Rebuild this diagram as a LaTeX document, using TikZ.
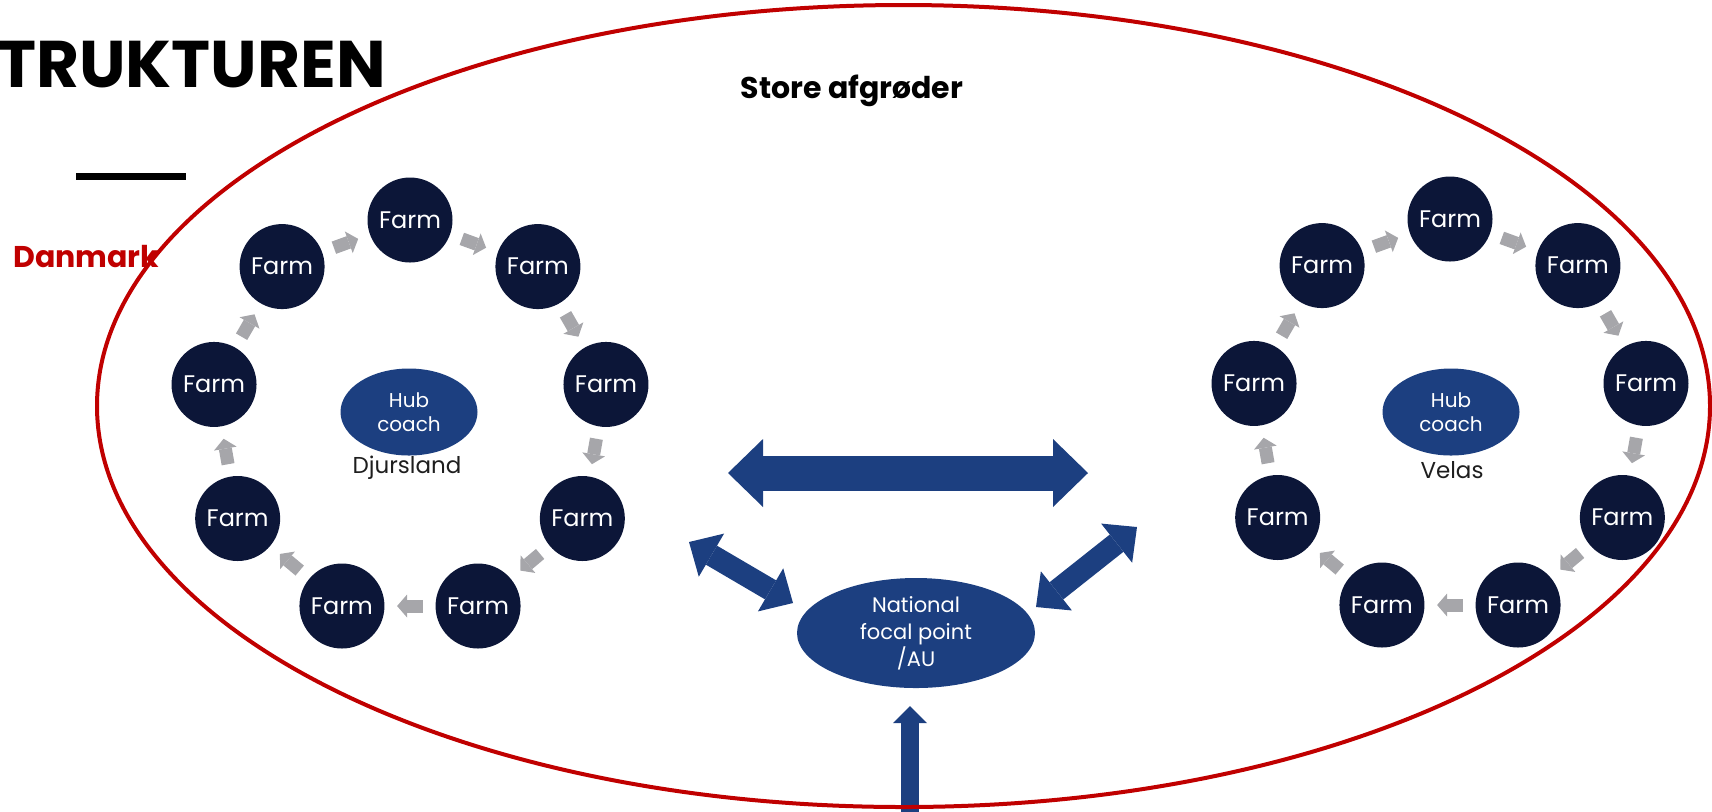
\documentclass[tikz,border=0pt]{standalone}
\usepackage{fontspec}
\setmainfont{Poppins}
\usetikzlibrary{positioning,calc,shapes.geometric,arrows.meta}
\definecolor{farmnavy}{HTML}{0C1638}
\definecolor{hubblue}{HTML}{1C3F80}
\definecolor{flowgray}{HTML}{A6A6AA}
\definecolor{ringred}{HTML}{C00000}
\definecolor{labeldark}{HTML}{1E1E1E}
\tikzset{farm/.style={circle,fill=farmnavy,text=white,minimum size=42.5pt,inner sep=0pt,font=\fontsize{12}{14}\selectfont},
         hub/.style={ellipse,fill=hubblue,text=white,minimum width=68.5pt,minimum height=43.5pt,inner sep=0pt,align=center,font=\fontsize{10}{12}\selectfont},
         flow/.style={flowgray,line width=6.5pt,-{Triangle[length=5pt,width=11.5pt,line width=0pt]}},
         linkbig/.style={hubblue,line width=17.5pt,>={Triangle[length=17.5pt,width=34pt,line width=0pt]}},
         linkmid/.style={hubblue,line width=11pt,>={Triangle[length=13pt,width=25pt,line width=0pt]}},
         linkin/.style={hubblue,line width=9pt,>={Triangle[length=8.5pt,width=17pt,line width=0pt]}}
}

\begin{document}
\begin{tikzpicture}[x=0.5pt,y=0.5pt,yscale=-1]
\useasboundingbox (0,0) rectangle (1712,811);

% headings
\node[anchor=base west,inner sep=0pt,font=\fontsize{33}{40}\selectfont\bfseries] (title) at (-3,87) {TRUKTUREN};
\draw[line width=3.5pt] (76,176) -- (186,176);
\node[anchor=base west,inner sep=0pt,text=ringred,font=\fontsize{15}{18}\selectfont\bfseries] (land) at (13,267) {Danmark};
\node[anchor=base,inner sep=0pt,font=\fontsize{15}{18}\selectfont\bfseries] (crop) at (852,98) {Store afgrøder};

% two rings of farms
\foreach \side/\cx/\cy in {l/410/419,r/1450/418}{
  \begin{scope}[shift={(\cx,\cy)}]
    \foreach \k in {0,...,8}
      \node[farm] (f\side\k) at ({40*\k-90}:199) {Farm};
  \end{scope}
  \foreach \k [evaluate=\k as \n using {int(mod(\k+1,9))}] in {0,...,8}
    \draw[flow] ($(f\side\k)!0.405!(f\side\n)$) -- ($(f\side\k)!0.595!(f\side\n)$);
}

% hubs
\node[hub] (hubl) at (409,412) {Hub\\coach};
\node[anchor=base,inner sep=0pt,text=labeldark,font=\fontsize{11.5}{14}\selectfont] (namel) at (407,473) {Djursland};
\node[hub] (hubr) at (1451,412) {Hub\\coach};
\node[anchor=base,inner sep=0pt,text=labeldark,font=\fontsize{11.5}{14}\selectfont] (namer) at (1452,478) {Velas};

% focal point
\node[hub,minimum width=119pt,minimum height=55pt,font=\fontsize{10.5}{13.5}\selectfont] (focal) at (916,633) {National\\focal point\\/AU};

% big arrows
\coordinate (hubsw) at (728,473);
\coordinate (hubse) at (1088,473);
\coordinate (lefttip) at (689,542);
\coordinate (leftfoot) at (793,603);
\coordinate (righttip) at (1137,527);
\coordinate (rightfoot) at (1036,607);
\coordinate (intip) at (910,706);
\coordinate (inbase) at (910,830);
\draw[linkbig,<->] (hubsw) -- (hubse);
\draw[linkmid,<->] (lefttip) -- (leftfoot);
\draw[linkmid,<->] (righttip) -- (rightfoot);
\draw[linkin,->] (inbase) -- (intip);

% outer ring
\draw[ringred,line width=2pt] (903.5,406) ellipse [x radius=806.5,y radius=401];

\end{tikzpicture}
\end{document}
